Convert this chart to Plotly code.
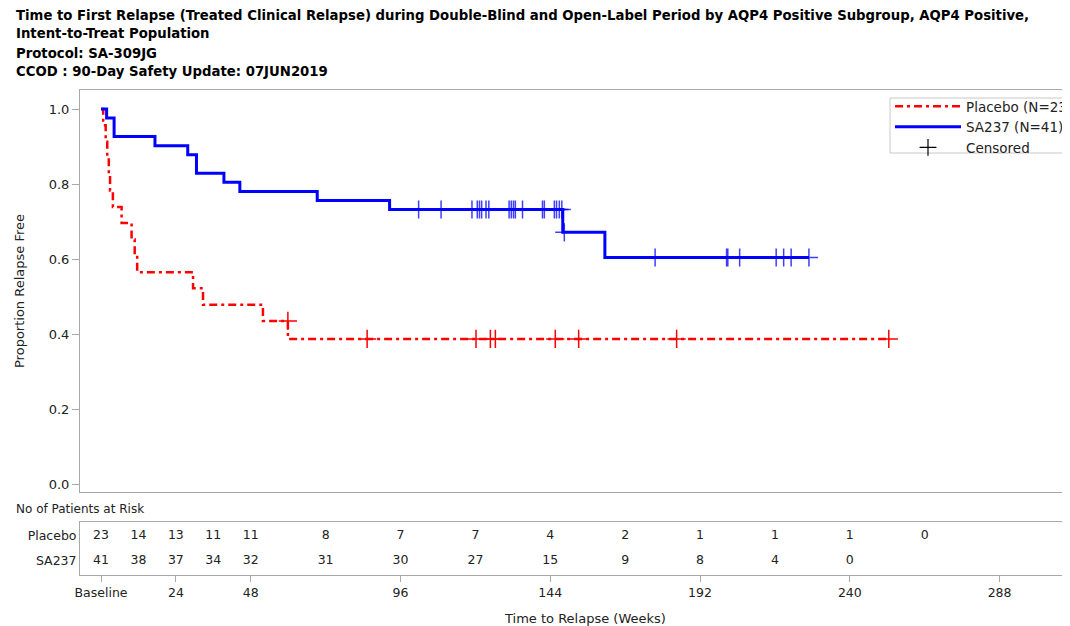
import plotly.graph_objects as go

# ---------------- data ----------------
placebo_t = [0, 0.7, 1.5, 2.0, 2.5, 2.9, 3.8, 6.6, 9.8, 10.8, 11.6, 29.5, 32.7, 51.9, 59.9, 252.5]
placebo_s = [1.0, 0.957, 0.913, 0.870, 0.826, 0.783, 0.739, 0.696, 0.652, 0.609, 0.565, 0.522, 0.478, 0.435, 0.387, 0.387]

sa237_t = [0, 1.8, 4.2, 17.3, 27.8, 30.6, 39.4, 44.5, 69.3, 92.5, 148.0, 161.5, 226.9]
sa237_s = [1.0, 0.976, 0.927, 0.902, 0.878, 0.829, 0.805, 0.780, 0.756, 0.732, 0.671, 0.604, 0.604]

placebo_cens_t = [59.9, 85.3, 120.2, 124.8, 126.4, 145.6, 153.1, 184.5, 252.5]
placebo_cens_s = [0.435, 0.387, 0.387, 0.387, 0.387, 0.387, 0.387, 0.387, 0.387]

sa237_cens_t = [101.8, 109.0, 118.9, 120.6, 121.3, 122.0, 123.4, 124.3, 130.8, 131.5, 132.2,
                132.8, 135.1, 141.5, 142.1, 145.3, 146.0, 146.9, 147.7,
                148.5, 177.6, 200.5, 200.9, 204.7, 216.4, 218.8, 221.2, 226.9]
sa237_cens_s = [0.732] * 19 + [0.671] + [0.604] * 8

risk_times = [0, 12, 24, 36, 48, 72, 96, 120, 144, 168, 192, 216, 240, 264]
risk_placebo = [23, 14, 13, 11, 11, 8, 7, 7, 4, 2, 1, 1, 1, 0]
risk_sa237 = [41, 38, 37, 34, 32, 31, 30, 27, 15, 9, 8, 4, 0]

x_tickvals = [0, 24, 48, 96, 144, 192, 240, 288]
x_ticktext = ["Baseline", "24", "48", "96", "144", "192", "240", "288"]
y_tickvals = [0.0, 0.2, 0.4, 0.6, 0.8, 1.0]

title_lines = [
    "Time to First Relapse (Treated Clinical Relapse) during Double-Blind and Open-Label Period by AQP4 Positive Subgroup, AQP4 Positive,",
    "Intent-to-Treat Population",
    "Protocol: SA-309JG",
    "CCOD : 90-Day Safety Update: 07JUN2019",
]

# ---------------- layout geometry ----------------
# the page body adds an 8px offset; work in reference (window) pixels
O = 8
W, H = 1070 - O, 626 - O
ML = 80 - O
MT = 90 - O
MB = H - (575 - O)
MR = 0
PW, PH = W - ML - MR, H - MT - MB


def py(yref):
    return (H - MB - (yref - O)) / PH


def px(xref):
    return ((xref - O) - ML) / PW


FONT = "DejaVu Sans"
RED = "#ff0000"
BLUE = "#0000ff"
AX = "#a8a8a8"
TXT = "#222222"
XPX = 3.12   # pixels per week
X0 = 101     # pixel of week 0

fig = go.Figure()

fig.add_trace(go.Scatter(
    x=placebo_t, y=placebo_s, mode="lines", line_shape="hv",
    line=dict(color=RED, width=2.5, dash="8px,4px,3px,4px"),
    name="Placebo (N=23)", xaxis="x", yaxis="y"))
fig.add_trace(go.Scatter(
    x=sa237_t, y=sa237_s, mode="lines", line_shape="hv",
    line=dict(color=BLUE, width=3),
    name="SA237 (N=41)", xaxis="x", yaxis="y"))
fig.add_trace(go.Scatter(
    x=placebo_cens_t, y=placebo_cens_s, mode="markers", showlegend=False,
    marker=dict(symbol="cross-thin", size=13, line=dict(color=RED, width=1.5)),
    xaxis="x", yaxis="y"))
fig.add_trace(go.Scatter(
    x=sa237_cens_t, y=sa237_cens_s, mode="markers", showlegend=False,
    marker=dict(symbol="cross-thin", size=13, line=dict(color=BLUE, width=1.5), opacity=0.75),
    xaxis="x", yaxis="y"))
fig.add_trace(go.Scatter(
    x=[None], y=[None], mode="markers", name="Censored",
    marker=dict(symbol="cross-thin", size=12, color="black", line=dict(color="black", width=1.2)),
    xaxis="x", yaxis="y"))

# risk table
fig.add_trace(go.Scatter(
    x=risk_times, y=[0.736] * len(risk_placebo), mode="text",
    text=[str(v) for v in risk_placebo], textfont=dict(family=FONT, size=12.5, color=TXT),
    showlegend=False, xaxis="x2", yaxis="y2", hoverinfo="skip"))
fig.add_trace(go.Scatter(
    x=risk_times[:len(risk_sa237)], y=[0.264] * len(risk_sa237), mode="text",
    text=[str(v) for v in risk_sa237], textfont=dict(family=FONT, size=12.5, color=TXT),
    showlegend=False, xaxis="x2", yaxis="y2", hoverinfo="skip"))

xr = [(80 - X0) / XPX, (1070 - X0) / XPX]

annotations = []
for line, ypos in zip(title_lines, [15, 34, 53, 72]):
    annotations.append(dict(
        text="<b>" + line + "</b>", x=px(14), y=py(ypos), xref="paper", yref="paper",
        xanchor="left", yanchor="middle", showarrow=False,
        font=dict(family=FONT, size=13.25, color="black")))
annotations.append(dict(
    text="No of Patients at Risk", x=px(14), y=py(509), xref="paper", yref="paper",
    xanchor="left", yanchor="middle", showarrow=False,
    font=dict(family=FONT, size=12, color=TXT)))
annotations.append(dict(
    text="Time to Relapse (Weeks)", x=px(585), y=py(618), xref="paper", yref="paper",
    xanchor="center", yanchor="middle", showarrow=False,
    font=dict(family=FONT, size=13, color=TXT)))

# legend frame (runs past the right edge of the picture, as in the reference)
shapes = [dict(
    type="rect", xref="paper", yref="paper",
    x0=px(890), x1=px(1085), y0=py(153), y1=py(98),
    line=dict(color="#c8c8c8", width=1), fillcolor="white", layer="above")]

fig.update_layout(
    width=W, height=H,
    margin=dict(l=ML, r=MR, t=MT, b=MB, pad=0, autoexpand=False),
    paper_bgcolor="white", plot_bgcolor="white",
    font=dict(family=FONT, size=13, color=TXT),
    showlegend=True,
    legend=dict(
        x=px(890), y=py(91), xanchor="left", yanchor="top",
        borderwidth=0, bgcolor="rgba(0,0,0,0)",
        font=dict(family=FONT, size=13.5, color=TXT),
        itemwidth=66, tracegroupgap=0),
    xaxis=dict(
        domain=[0, 1], range=xr, anchor="y",
        showline=True, mirror=True, linecolor=AX, linewidth=1,
        showticklabels=False, ticks="", showgrid=False, zeroline=False),
    yaxis=dict(
        domain=[py(492), 1], range=[-8 / 375, 1 + 19 / 375], anchor="x",
        tickvals=y_tickvals, ticktext=[f"{v:.1f}" for v in y_tickvals],
        ticks="outside", ticklen=7, tickcolor=AX, tickfont=dict(family=FONT, size=13, color=TXT),
        showline=True, mirror=False, linecolor=AX, linewidth=1,
        showgrid=False, zeroline=False,
        title=dict(text="Proportion Relapse Free", font=dict(family=FONT, size=13, color=TXT), standoff=21)),
    xaxis2=dict(
        domain=[0, 1], range=xr, anchor="y2", matches="x",
        tickvals=x_tickvals, ticktext=x_ticktext,
        ticks="outside", ticklen=6, tickcolor=AX,
        tickfont=dict(family=FONT, size=12.5, color=TXT),
        showline=True, mirror=True, linecolor=AX, linewidth=1,
        showgrid=False, zeroline=False),
    yaxis2=dict(
        domain=[0, py(522)], range=[0, 1], anchor="x2",
        tickvals=[0.736, 0.264], ticktext=["Placebo", "SA237"],
        ticks="", tickfont=dict(family=FONT, size=12.5, color=TXT),
        showline=True, mirror=False, linecolor=AX, linewidth=1,
        showgrid=False, zeroline=False),
    annotations=annotations,
    shapes=shapes,
)

fig.write_html("out.html")
